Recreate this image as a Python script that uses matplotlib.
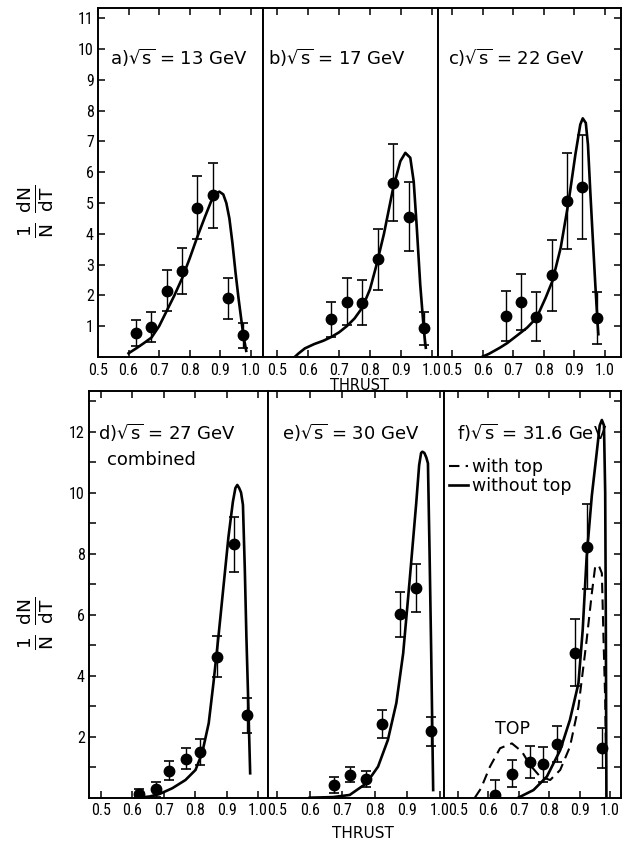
import matplotlib
matplotlib.use("Agg")
import matplotlib.pyplot as plt
from matplotlib import font_manager
from matplotlib.ticker import FixedLocator

# ---------------- data ----------------
thrust_ticks = [0.5, 0.6, 0.7, 0.8, 0.9, 1.0]
thrust_labels = ["0.5", "0.6", "0.7", "0.8", "0.9", "1.0"]

# a) sqrt(s) = 13 GeV
a_x = [0.625, 0.675, 0.725, 0.775, 0.825, 0.875, 0.925, 0.975]
a_y = [0.78, 0.98, 2.15, 2.78, 4.85, 5.25, 1.90, 0.70]
a_err = [0.42, 0.48, 0.67, 0.75, 1.03, 1.05, 0.67, 0.40]
a_cx = [0.600, 0.625, 0.650, 0.675, 0.700, 0.725, 0.750, 0.775, 0.800, 0.825, 0.850,
        0.870, 0.885, 0.897, 0.910, 0.920, 0.930, 0.940, 0.950, 0.960, 0.975, 0.985]
a_cy = [0.12, 0.28, 0.45, 0.63, 1.00, 1.50, 2.00, 2.55, 3.20, 3.90, 4.55,
        5.05, 5.30, 5.37, 5.28, 5.00, 4.50, 3.70, 2.75, 1.90, 0.75, 0.20]

# b) sqrt(s) = 17 GeV
b_x = [0.675, 0.725, 0.775, 0.825, 0.875, 0.925, 0.975]
b_y = [1.22, 1.80, 1.76, 3.17, 5.66, 4.55, 0.93]
b_err = [0.57, 0.75, 0.73, 1.00, 1.25, 1.12, 0.54]
b_cx = [0.557, 0.570, 0.590, 0.620, 0.650, 0.675, 0.700, 0.725, 0.750, 0.775, 0.800,
        0.820, 0.845, 0.875, 0.898, 0.914, 0.930, 0.941, 0.951, 0.962, 0.974, 0.980]
b_cy = [0.00, 0.12, 0.28, 0.42, 0.53, 0.65, 0.80, 1.00, 1.25, 1.60, 2.20,
        2.95, 4.00, 5.50, 6.36, 6.63, 6.47, 5.70, 4.20, 2.36, 0.84, 0.30]

# c) sqrt(s) = 22 GeV
c_x = [0.675, 0.725, 0.775, 0.825, 0.875, 0.925, 0.975]
c_y = [1.33, 1.79, 1.31, 2.66, 5.06, 5.52, 1.26]
c_err = [0.82, 0.92, 0.80, 1.15, 1.55, 1.70, 0.85]
c_cx = [0.597, 0.620, 0.656, 0.680, 0.710, 0.745, 0.776, 0.806, 0.828, 0.855, 0.881,
        0.903, 0.919, 0.927, 0.937, 0.944, 0.951, 0.959, 0.968, 0.975, 0.978]
c_cy = [0.00, 0.10, 0.30, 0.45, 0.68, 0.95, 1.27, 1.93, 2.47, 3.55, 5.06,
        6.58, 7.55, 7.75, 7.60, 6.90, 5.50, 4.00, 2.36, 1.17, 0.74]

# d) sqrt(s) = 27 GeV combined
d_x = [0.620, 0.675, 0.715, 0.770, 0.815, 0.870, 0.925, 0.965]
d_y = [0.12, 0.28, 0.88, 1.28, 1.49, 4.62, 8.30, 2.70]
d_err = [0.15, 0.25, 0.31, 0.34, 0.42, 0.67, 0.89, 0.57]
d_cx = [0.620, 0.655, 0.686, 0.727, 0.769, 0.801, 0.822, 0.843, 0.858, 0.874, 0.890,
        0.906, 0.920, 0.928, 0.934, 0.940, 0.946, 0.952, 0.958, 0.963, 0.969, 0.975]
d_cy = [0.00, 0.04, 0.12, 0.31, 0.58, 0.91, 1.46, 2.44, 3.75, 5.28, 6.92,
        8.56, 9.70, 10.15, 10.25, 10.15, 10.00, 9.60, 7.47, 5.28, 3.10, 0.80]

# e) sqrt(s) = 30 GeV
e_x = [0.675, 0.723, 0.774, 0.823, 0.876, 0.927, 0.973]
e_y = [0.42, 0.76, 0.60, 2.42, 6.01, 6.88, 2.18]
e_err = [0.27, 0.23, 0.26, 0.45, 0.73, 0.78, 0.47]
e_cx = [0.600, 0.672, 0.723, 0.774, 0.810, 0.840, 0.866, 0.887, 0.907, 0.927,
        0.936, 0.942, 0.946, 0.952, 0.958, 0.963, 0.968, 0.973, 0.979]
e_cy = [0.00, 0.02, 0.09, 0.47, 1.02, 1.89, 3.10, 4.73, 7.14, 9.65,
        10.90, 11.30, 11.34, 11.30, 11.15, 10.96, 8.01, 4.73, 0.25]

# f) sqrt(s) = 31.6 GeV
f_x = [0.622, 0.677, 0.735, 0.779, 0.827, 0.885, 0.923, 0.973]
f_y = [0.10, 0.78, 1.18, 1.09, 1.76, 4.75, 8.23, 1.62]
f_err = [0.48, 0.44, 0.52, 0.56, 0.60, 1.10, 1.38, 0.65]
f_nt_x = [0.698, 0.748, 0.792, 0.836, 0.868, 0.896, 0.910, 0.923, 0.940, 0.956,
          0.966, 0.973, 0.980, 0.984, 0.986, 0.988]
f_nt_y = [0.00, 0.25, 0.69, 1.56, 2.55, 3.75, 5.50, 7.90, 9.90, 11.30,
          12.20, 12.38, 12.20, 10.00, 6.00, 0.00]
f_wt_x = [0.555, 0.575, 0.605, 0.638, 0.677, 0.710, 0.737, 0.770, 0.803, 0.836,
          0.868, 0.896, 0.923, 0.940, 0.951, 0.962, 0.973, 0.978, 0.984, 0.987]
f_wt_y = [0.00, 0.30, 1.02, 1.62, 1.78, 1.51, 1.07, 0.69, 0.58, 0.91,
          1.67, 2.98, 5.17, 6.70, 7.57, 7.63, 7.36, 5.39, 3.20, 1.00]

titles = ["a)$\\sqrt{s}$ = 13 GeV", "b)$\\sqrt{s}$ = 17 GeV", "c)$\\sqrt{s}$ = 22 GeV",
          "d)$\\sqrt{s}$ = 27 GeV", "e)$\\sqrt{s}$ = 30 GeV", "f)$\\sqrt{s}$ = 31.6 GeV"]

# ---------------- style ----------------
names = {f.name for f in font_manager.fontManager.ttflist}
narrow_candidates = ["Liberation Sans Narrow", "Roboto Condensed", "PT Sans Narrow",
                     "Archivo Narrow", "Fira Sans Condensed", "IBM Plex Sans Condensed",
                     "Encode Sans Condensed", "Open Sans Condensed", "Asap Condensed",
                     "Sofia Sans Condensed"]
tick_font = next((n for n in narrow_candidates if n in names), None)
if tick_font is None:
    tick_font = next((n for n in sorted(names) if ("Condensed" in n or "Narrow" in n)
                      and "Bold" not in n and "Light" not in n), "Liberation Sans")
plt.rcParams["font.family"] = ["DejaVu Sans"]
plt.rcParams["mathtext.default"] = "regular"
TS = 11.5

W, H = 622, 841
fig = plt.figure(figsize=(W / 100, H / 100), dpi=100)


def add_ax(x0, x1, y_top, y_bot):
    return fig.add_axes([x0 / W, 1 - y_bot / H, (x1 - x0) / W, (y_bot - y_top) / H])


top_y, top_b = 7.5, 357.0
bot_y, bot_b = 391.0, 797.7
ax_a = add_ax(98, 263, top_y, top_b)
ax_b = add_ax(263, 438, top_y, top_b)
ax_c = add_ax(438, 621, top_y, top_b)
ax_d = add_ax(89, 268, bot_y, bot_b)
ax_e = add_ax(268, 443.5, bot_y, bot_b)
ax_f = add_ax(443.5, 621, bot_y, bot_b)

xlims = [(0.5, 1.04), (0.4548, 1.0194), (0.454, 1.052),
         (0.4618, 1.0318), (0.4724, 1.0107), (0.452, 1.036)]
axes = [ax_a, ax_b, ax_c, ax_d, ax_e, ax_f]

pts = [(a_x, a_y, a_err), (b_x, b_y, b_err), (c_x, c_y, c_err),
       (d_x, d_y, d_err), (e_x, e_y, e_err), (f_x, f_y, f_err)]
curves = [(a_cx, a_cy), (b_cx, b_cy), (c_cx, c_cy), (d_cx, d_cy), (e_cx, e_cy), None]

for i, ax in enumerate(axes):
    top_row = i < 3
    ax.set_xlim(*xlims[i])
    ax.set_ylim(0, 11.35 if top_row else 13.33)
    ax.set_xticks(thrust_ticks)
    ax.set_xticklabels(thrust_labels, fontfamily=tick_font, fontsize=TS)
    if top_row:
        ax.set_yticks(range(1, 12))
        ax.set_yticklabels([str(v) for v in range(1, 12)], fontfamily=tick_font, fontsize=TS)
    else:
        ax.set_yticks(range(2, 13, 2))
        ax.set_yticklabels([str(v) for v in range(2, 13, 2)], fontfamily=tick_font, fontsize=TS)
        ax.yaxis.set_minor_locator(FixedLocator(range(1, 14, 2)))
    col = i % 3
    ax.tick_params(axis="x", which="both", direction="in", top=True, bottom=True,
                   length=5, width=1.1, pad=4)
    ax.tick_params(axis="y", which="both", direction="in", left=(col == 0), right=(col == 2),
                   labelleft=(col == 0), labelright=False, length=5, width=1.1, pad=3)
    for s in ax.spines.values():
        s.set_linewidth(1.4)
        s.set_color("black")

    xs, ys, es = pts[i]
    ax.errorbar(xs, ys, yerr=es, fmt="o", color="black", ms=7.5, elinewidth=1.0,
                capsize=3.5, capthick=1.2, zorder=3)
    if curves[i] is not None:
        cx, cy = curves[i]
        ax.plot(cx, cy, color="black", lw=1.9, zorder=2)

# panel f curves and legend
l_wt, = ax_f.plot(f_wt_x, f_wt_y, color="black", lw=1.5, dashes=(5, 3), zorder=2)
l_nt, = ax_f.plot(f_nt_x, f_nt_y, color="black", lw=1.9, zorder=2)
ax_f.legend([l_wt, l_nt], ["with top", "without top"], loc="upper left",
            bbox_to_anchor=(0.03, 0.835), frameon=False, fontsize=12.5,
            handlelength=1.1, handletextpad=0.25, labelspacing=0.05, borderaxespad=0,
            borderpad=0)
ax_f.text(0.679, 2.25, "TOP", ha="center", va="center", fontsize=12.5)

# titles
title_pos = [(0.07, 0.855), (0.03, 0.855), (0.055, 0.855),
             (0.05, 0.897), (0.08, 0.897), (0.075, 0.897)]
for ax, t, (tx, ty) in zip(axes, titles, title_pos):
    ax.text(tx, ty, t, transform=ax.transAxes, ha="left", va="center", fontsize=13)
ax_d.text(0.10, 0.830, "combined", transform=ax_d.transAxes, ha="left", va="center",
          fontsize=13)

# axis labels
ylab = r"$\frac{1}{N}\ \frac{dN}{dT}$"
fig.text(36 / W, 1 - 211 / H, ylab, rotation=90, ha="center", va="center", fontsize=19)
fig.text(36 / W, 1 - 623 / H, ylab, rotation=90, ha="center", va="center", fontsize=19)
fig.text(360 / W, 1 - 385.5 / H, "THRUST", ha="center", va="center", fontsize=10.5)
fig.text(363 / W, 1 - 833 / H, "THRUST", ha="center", va="center", fontsize=11)

fig.savefig("out.png", dpi=100, facecolor="white")
